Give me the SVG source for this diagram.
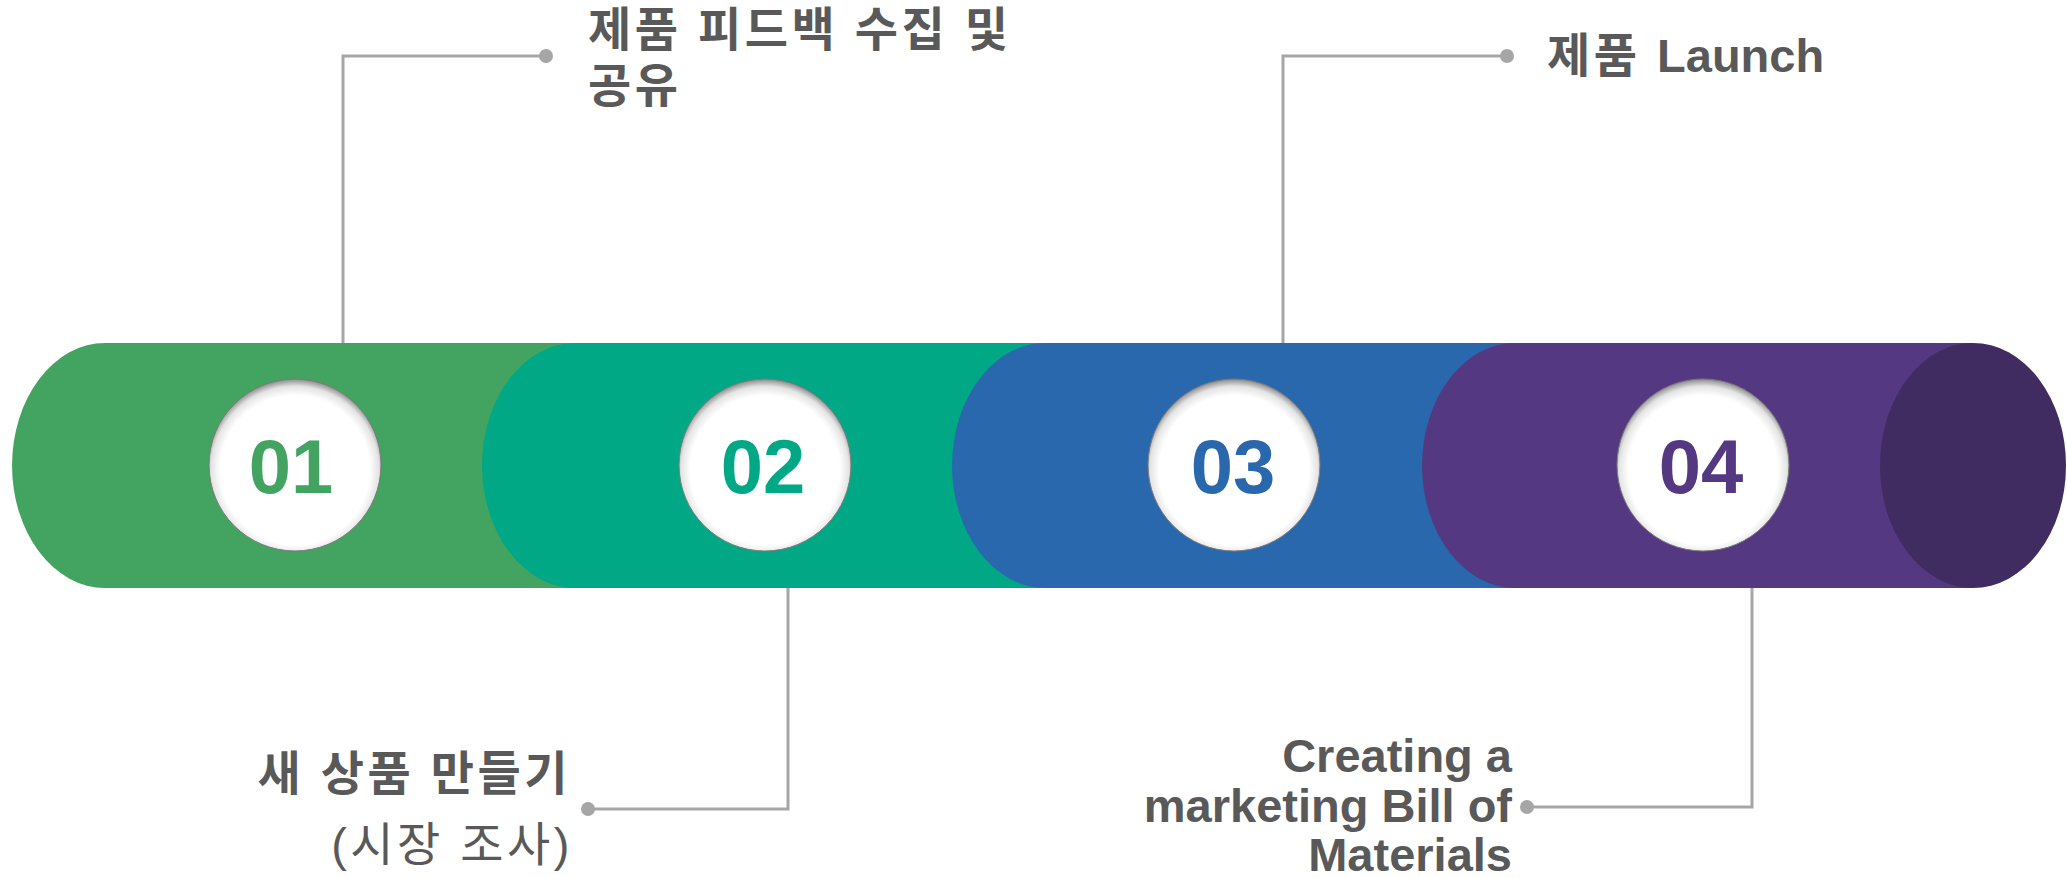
<svg xmlns="http://www.w3.org/2000/svg" width="2067" height="878" viewBox="0 0 2067 878">
<style>
.lbl{font-family:"Liberation Sans","Noto Sans CJK KR",sans-serif;font-size:47px;font-weight:bold;fill:#595959}
.lblr{font-family:"Liberation Sans","Noto Sans CJK KR",sans-serif;font-size:47px;font-weight:normal;fill:#595959}
.ko{letter-spacing:3.5px}
.num{font-family:"Liberation Sans",Arial,sans-serif;font-size:76px;font-weight:bold;text-anchor:middle}
.conn{fill:none;stroke:#A6A6A6;stroke-width:3}
.dot{fill:#A6A6A6}
.badge{fill:url(#badgeGrad);stroke:#7a7a7a;stroke-width:1}
</style>
<defs>
<radialGradient id="badgeGrad" cx="0.5" cy="0.53" r="0.53">
<stop offset="0" stop-color="#ffffff"/>
<stop offset="0.82" stop-color="#ffffff"/>
<stop offset="0.92" stop-color="#e4e4e4"/>
<stop offset="1" stop-color="#8a8a8a"/>
</radialGradient>
</defs>

<g id="connectors">
<polyline class="conn" points="343,343 343,56 546,56"/>
<circle class="dot" cx="546" cy="56" r="7"/>
<polyline class="conn" points="788,588 788,809 588,809"/>
<circle class="dot" cx="588" cy="809" r="7"/>
<polyline class="conn" points="1283,343 1283,56 1507,56"/>
<circle class="dot" cx="1507" cy="56" r="7"/>
<polyline class="conn" points="1752,588 1752,807 1527,807"/>
<circle class="dot" cx="1527" cy="807" r="7"/>
</g>

<g id="node-01">
<path d="M105,343 L576,343 L576,588 L105,588 A93,122.5 0 0 1 105,343 Z" fill="#42A460"/>
</g>
<g id="node-02">
<path d="M575,343 L1046,343 L1046,588 L575,588 A93,122.5 0 0 1 575,343 Z" fill="#00A886"/>
</g>
<g id="node-03">
<path d="M1045,343 L1516,343 L1516,588 L1045,588 A93,122.5 0 0 1 1045,343 Z" fill="#2A68AE"/>
</g>
<g id="node-04">
<path d="M1515,343 L1974,343 L1974,588 L1515,588 A93,122.5 0 0 1 1515,343 Z" fill="#543881"/>
<ellipse cx="1973" cy="465.5" rx="93" ry="122.5" fill="#412C62"/>
</g>

<g id="badge-01">
<circle class="badge" cx="295" cy="465" r="86"/>
<text class="num" x="291" y="493" fill="#42A460">01</text>
</g>
<g id="badge-02">
<circle class="badge" cx="765" cy="465" r="86"/>
<text class="num" x="763" y="493" fill="#00A886">02</text>
</g>
<g id="badge-03">
<circle class="badge" cx="1234" cy="465" r="86"/>
<text class="num" x="1233" y="493" fill="#2A68AE">03</text>
</g>
<g id="badge-04">
<circle class="badge" cx="1703" cy="465" r="86"/>
<text class="num" x="1701" y="493" fill="#543881">04</text>
</g>

<g id="label-01">
<text class="lbl ko" x="588" y="46">제품 피드백 수집 및</text>
<text class="lbl ko" x="588" y="102">공유</text>
</g>
<g id="label-02">
<text class="lbl ko" x="571" y="790" text-anchor="end">새 상품 만들기</text>
<text class="lblr ko" x="573" y="861" text-anchor="end">(시장 조사)</text>
</g>
<g id="label-03">
<text class="lbl" x="1547" y="72"><tspan class="ko">제품 </tspan>Launch</text>
</g>
<g id="label-04">
<text class="lbl" x="1512" y="772" text-anchor="end">Creating a</text>
<text class="lbl" x="1512" y="822" text-anchor="end">marketing Bill of</text>
<text class="lbl" x="1512" y="871" text-anchor="end">Materials</text>
</g>
</svg>
